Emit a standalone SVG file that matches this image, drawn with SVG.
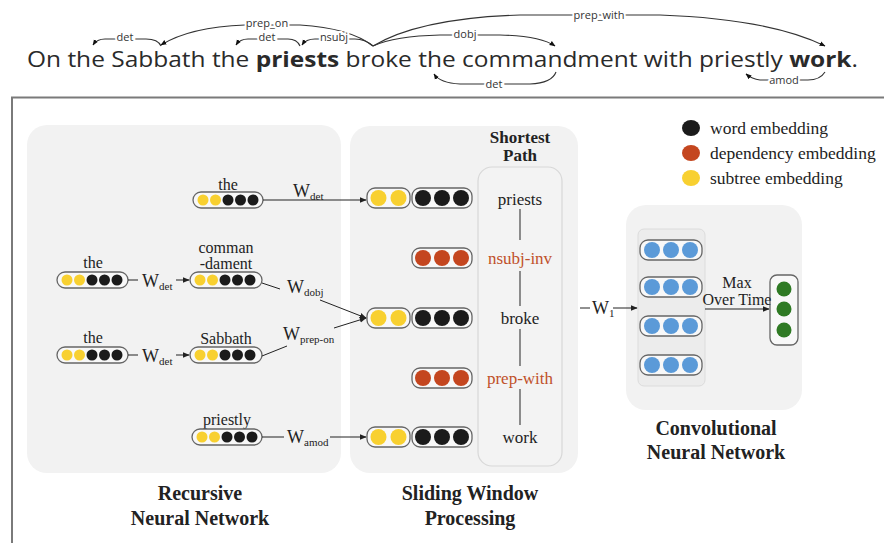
<svg xmlns="http://www.w3.org/2000/svg" width="884" height="543" viewBox="0 0 884 543">
<defs>
<marker id="ah" viewBox="0 0 10 10" refX="9" refY="5" markerWidth="7" markerHeight="7" orient="auto" markerUnits="userSpaceOnUse"><path d="M0,1 L10,5 L0,9 z" fill="#222"/></marker>
<marker id="as" viewBox="0 0 10 10" refX="9" refY="5" markerWidth="6" markerHeight="6" orient="auto" markerUnits="userSpaceOnUse"><path d="M0,1 L10,5 L0,9 z" fill="#111"/></marker>
<style>
.sent{font-family:"Open Sans","Liberation Sans",sans-serif;font-size:22px;fill:#2a2a2a}
.arc{fill:none;stroke:#333;stroke-width:1.1}
.al{font-family:"Open Sans","Liberation Sans",sans-serif;font-size:11px;fill:#333;stroke:#fff;stroke-width:4;paint-order:stroke;text-anchor:middle}
.panel{fill:#f2f2f2}
.vec{fill:#f8f8f8;stroke:#666;stroke-width:1.3}
.y{fill:#f8d030}.k{fill:#1b1b1b}.o{fill:#c4461f}.b{fill:#5b9ad8}.g{fill:#2f7a24}
.lab{font-family:"Liberation Serif","Times New Roman",serif;font-size:16px;fill:#222;text-anchor:middle}
.w{font-family:"Liberation Serif","Times New Roman",serif;font-size:18px;fill:#222}
.sub{font-size:11px}
.con{fill:none;stroke:#222;stroke-width:1}
.title{font-family:"Liberation Serif","Times New Roman",serif;font-size:20px;font-weight:bold;fill:#222;text-anchor:middle}
.sp{font-family:"Liberation Serif","Times New Roman",serif;font-size:17px;fill:#222;text-anchor:middle}
.dep{fill:#c0502a}
.leg{font-family:"Liberation Serif","Times New Roman",serif;font-size:17.5px;fill:#222}
</style>
</defs>
<rect width="884" height="543" fill="#fff"/>

<!-- sentence with dependency arcs -->
<g id="sentence">
<text class="sent" x="27" y="67" textLength="831" lengthAdjust="spacingAndGlyphs">On the Sabbath the <tspan font-weight="bold">priests</tspan> broke the commandment with priestly <tspan font-weight="bold">work</tspan>.</text>
</g>
<g id="dep-arcs">
<path class="arc" d="M161,46 Q158,39 146,39 L105,39 Q97,39 93,45" marker-end="url(#as)"/>
<path class="arc" d="M373,46 Q350,28 300,25 L245,25 Q190,27 161,45" marker-end="url(#as)"/>
<path class="arc" d="M300,46 Q297,39 288,39 L248,39 Q240,39 236,45" marker-end="url(#as)"/>
<path class="arc" d="M373,46 Q365,39 355,39 L315,39 Q306,39 302,45" marker-end="url(#as)"/>
<path class="arc" d="M373,46 Q420,18 520,15 L660,15 Q770,19 825,46" marker-end="url(#as)"/>
<path class="arc" d="M373,46 Q395,36 440,35 L500,35 Q540,36 555,46" marker-end="url(#as)"/>
<path class="arc" d="M556,72 Q552,83 530,84 L460,84 Q440,83 434,74" marker-end="url(#as)"/>
<path class="arc" d="M825,72 Q820,80 808,80 L760,80 Q752,79 746,74" marker-end="url(#as)"/>
<text class="al" x="125" y="41">det</text>
<text class="al" x="267" y="27">prep_on</text>
<text class="al" x="267" y="41">det</text>
<text class="al" x="334" y="41">nsubj</text>
<text class="al" x="599" y="19">prep_with</text>
<text class="al" x="465" y="38">dobj</text>
<text class="al" x="494" y="88">det</text>
<text class="al" x="784" y="84">amod</text>
</g>

<!-- frame -->
<path d="M12,543 L12,97.5 L884,97.5" fill="none" stroke="#7a7a7a" stroke-width="2"/>

<!-- panels -->
<g id="panel-recursive"><rect class="panel" x="27" y="125" width="314" height="348" rx="20"/></g>
<g id="panel-sliding"><rect class="panel" x="350" y="126" width="228" height="347" rx="20"/>
<rect x="478" y="167" width="84" height="299" rx="14" fill="#f3f3f3" stroke="#d8d8d8" stroke-width="1.2"/></g>
<g id="panel-cnn"><rect class="panel" x="626" y="205" width="176" height="205" rx="20"/>
<rect x="638" y="229" width="67" height="157" rx="6" fill="#ececec" stroke="#dcdcdc" stroke-width="1"/></g>

<!-- legend -->
<g id="legend">
<ellipse class="k" cx="691" cy="128" rx="9" ry="8"/>
<ellipse class="o" cx="691" cy="153" rx="9" ry="8"/>
<ellipse class="y" cx="691" cy="178" rx="9" ry="8"/>
<text class="leg" x="710" y="134">word embedding</text>
<text class="leg" x="710" y="159">dependency embedding</text>
<text class="leg" x="710" y="184">subtree embedding</text>
</g>

<!-- recursive nodes -->
<g id="rn-the-1"><text class="lab" x="228" y="190">the</text><rect class="vec" x="193" y="192" width="70" height="16" rx="8"/>
<circle class="y" cx="203" cy="200" r="5.5"/><circle class="y" cx="215.5" cy="200" r="5.5"/><circle class="k" cx="228" cy="200" r="5.5"/><circle class="k" cx="240.5" cy="200" r="5.5"/><circle class="k" cx="253" cy="200" r="5.5"/></g>

<g id="rn-the-2"><text class="lab" x="93" y="268">the</text><rect class="vec" x="57" y="272" width="71" height="16" rx="8"/>
<circle class="y" cx="67" cy="280" r="5.5"/><circle class="y" cx="79.5" cy="280" r="5.5"/><circle class="k" cx="92" cy="280" r="5.5"/><circle class="k" cx="104.5" cy="280" r="5.5"/><circle class="k" cx="117" cy="280" r="5.5"/></g>

<g id="rn-commandment"><text class="lab" x="226" y="253">comman</text><text class="lab" x="226" y="269">-dament</text><rect class="vec" x="190" y="272" width="72" height="16" rx="8"/>
<circle class="y" cx="200" cy="280" r="5.5"/><circle class="y" cx="212.5" cy="280" r="5.5"/><circle class="k" cx="225" cy="280" r="5.5"/><circle class="k" cx="237.5" cy="280" r="5.5"/><circle class="k" cx="250" cy="280" r="5.5"/></g>

<g id="rn-the-3"><text class="lab" x="93" y="343">the</text><rect class="vec" x="57" y="347" width="71" height="16" rx="8"/>
<circle class="y" cx="67" cy="355" r="5.5"/><circle class="y" cx="79.5" cy="355" r="5.5"/><circle class="k" cx="92" cy="355" r="5.5"/><circle class="k" cx="104.5" cy="355" r="5.5"/><circle class="k" cx="117" cy="355" r="5.5"/></g>

<g id="rn-sabbath"><text class="lab" x="226" y="344">Sabbath</text><rect class="vec" x="190" y="347" width="72" height="16" rx="8"/>
<circle class="y" cx="200" cy="355" r="5.5"/><circle class="y" cx="212.5" cy="355" r="5.5"/><circle class="k" cx="225" cy="355" r="5.5"/><circle class="k" cx="237.5" cy="355" r="5.5"/><circle class="k" cx="250" cy="355" r="5.5"/></g>

<g id="rn-priestly"><text class="lab" x="227" y="425">priestly</text><rect class="vec" x="192" y="429" width="70" height="16" rx="8"/>
<circle class="y" cx="202" cy="437" r="5.5"/><circle class="y" cx="214.5" cy="437" r="5.5"/><circle class="k" cx="227" cy="437" r="5.5"/><circle class="k" cx="239.5" cy="437" r="5.5"/><circle class="k" cx="252" cy="437" r="5.5"/></g>

<!-- sliding window rows -->
<g id="sw-row-1"><rect class="vec" x="367" y="188" width="43" height="20" rx="8"/><circle class="y" cx="378.5" cy="198" r="8"/><circle class="y" cx="398.5" cy="198" r="8"/>
<rect class="vec" x="412" y="188" width="60" height="20" rx="8"/><circle class="k" cx="423" cy="198" r="8"/><circle class="k" cx="442" cy="198" r="8"/><circle class="k" cx="461" cy="198" r="8"/></g>
<g id="sw-row-2"><rect class="vec" x="412" y="248" width="60" height="20" rx="8"/><circle class="o" cx="423" cy="258" r="8"/><circle class="o" cx="442" cy="258" r="8"/><circle class="o" cx="461" cy="258" r="8"/></g>
<g id="sw-row-3"><rect class="vec" x="367" y="308" width="43" height="20" rx="8"/><circle class="y" cx="378.5" cy="318" r="8"/><circle class="y" cx="398.5" cy="318" r="8"/>
<rect class="vec" x="412" y="308" width="60" height="20" rx="8"/><circle class="k" cx="423" cy="318" r="8"/><circle class="k" cx="442" cy="318" r="8"/><circle class="k" cx="461" cy="318" r="8"/></g>
<g id="sw-row-4"><rect class="vec" x="412" y="368" width="60" height="20" rx="8"/><circle class="o" cx="423" cy="378" r="8"/><circle class="o" cx="442" cy="378" r="8"/><circle class="o" cx="461" cy="378" r="8"/></g>
<g id="sw-row-5"><rect class="vec" x="367" y="427" width="43" height="20" rx="8"/><circle class="y" cx="378.5" cy="437" r="8"/><circle class="y" cx="398.5" cy="437" r="8"/>
<rect class="vec" x="412" y="427" width="60" height="20" rx="8"/><circle class="k" cx="423" cy="437" r="8"/><circle class="k" cx="442" cy="437" r="8"/><circle class="k" cx="461" cy="437" r="8"/></g>

<!-- shortest path -->
<g id="shortest-path">
<text class="sp" x="520" y="143" font-weight="bold" font-size="15">Shortest</text>
<text class="sp" x="520" y="161" font-weight="bold" font-size="15">Path</text>
<text class="sp" x="520" y="205">priests</text>
<text class="sp dep" x="520" y="264">nsubj-inv</text>
<text class="sp" x="520" y="324">broke</text>
<text class="sp dep" x="520" y="384">prep-with</text>
<text class="sp" x="520" y="443">work</text>
<path d="M520,209 V240 M520,271 V306 M520,329 V366 M520,389 V425" stroke="#555" stroke-width="1.3"/>
</g>

<!-- CNN -->
<g id="cnn-feature-maps">
<rect class="vec" x="640" y="240" width="62" height="20" rx="8"/><circle class="b" cx="652" cy="250" r="8"/><circle class="b" cx="671" cy="250" r="8"/><circle class="b" cx="690" cy="250" r="8"/>
<rect class="vec" x="640" y="277" width="62" height="20" rx="8"/><circle class="b" cx="652" cy="287" r="8"/><circle class="b" cx="671" cy="287" r="8"/><circle class="b" cx="690" cy="287" r="8"/>
<rect class="vec" x="640" y="316" width="62" height="20" rx="8"/><circle class="b" cx="652" cy="326" r="8"/><circle class="b" cx="671" cy="326" r="8"/><circle class="b" cx="690" cy="326" r="8"/>
<rect class="vec" x="640" y="355" width="62" height="20" rx="8"/><circle class="b" cx="652" cy="365" r="8"/><circle class="b" cx="671" cy="365" r="8"/><circle class="b" cx="690" cy="365" r="8"/>
</g>
<g id="cnn-output">
<rect class="vec" x="770" y="275" width="28" height="70" rx="7"/>
<circle class="g" cx="784" cy="289" r="7.5"/><circle class="g" cx="784" cy="309" r="7.5"/><circle class="g" cx="784" cy="330" r="7.5"/>
</g>

<!-- connectors -->
<g id="connectors">
<line class="con" x1="263" y1="200" x2="366" y2="200" marker-end="url(#ah)"/>
<text class="w" x="293" y="197">W<tspan class="sub" dy="3">det</tspan></text>

<line class="con" x1="128" y1="280" x2="138" y2="280"/>
<text class="w" x="142" y="287">W<tspan class="sub" dy="3">det</tspan></text>
<line class="con" x1="176" y1="280" x2="189" y2="280" marker-end="url(#ah)"/>

<line class="con" x1="128" y1="355" x2="138" y2="355"/>
<text class="w" x="142" y="362">W<tspan class="sub" dy="3">det</tspan></text>
<line class="con" x1="176" y1="355" x2="189" y2="355" marker-end="url(#ah)"/>

<line class="con" x1="262" y1="283" x2="280" y2="289"/>
<text class="w" x="287" y="293">W<tspan class="sub" dy="3">dobj</tspan></text>
<line class="con" x1="320" y1="300" x2="366" y2="318" marker-end="url(#ah)"/>

<line class="con" x1="262" y1="356" x2="287" y2="346"/>
<text class="w" x="283" y="340">W<tspan class="sub" dy="3">prep-on</tspan></text>
<line class="con" x1="334" y1="328" x2="366" y2="318" marker-end="url(#ah)"/>

<line class="con" x1="262" y1="437" x2="284" y2="437"/>
<text class="w" x="287" y="443">W<tspan class="sub" dy="3">amod</tspan></text>
<line class="con" x1="330" y1="437" x2="366" y2="437" marker-end="url(#ah)"/>

<line class="con" x1="580" y1="308" x2="590" y2="308"/>
<text class="w" x="592" y="314">W<tspan class="sub" dy="3">1</tspan></text>
<line class="con" x1="613" y1="308" x2="637" y2="308" marker-end="url(#ah)"/>

<line class="con" x1="705" y1="309" x2="769" y2="309" marker-end="url(#ah)"/>
<text class="lab" x="737" y="288" font-size="14.5">Max</text>
<text class="lab" x="737" y="305" font-size="14.5">Over Time</text>
</g>

<!-- titles -->
<g id="titles">
<text class="title" x="200" y="500">Recursive</text>
<text class="title" x="200" y="525">Neural Network</text>
<text class="title" x="470" y="500">Sliding Window</text>
<text class="title" x="470" y="525">Processing</text>
<text class="title" x="716" y="435">Convolutional</text>
<text class="title" x="716" y="459">Neural Network</text>
</g>
</svg>
